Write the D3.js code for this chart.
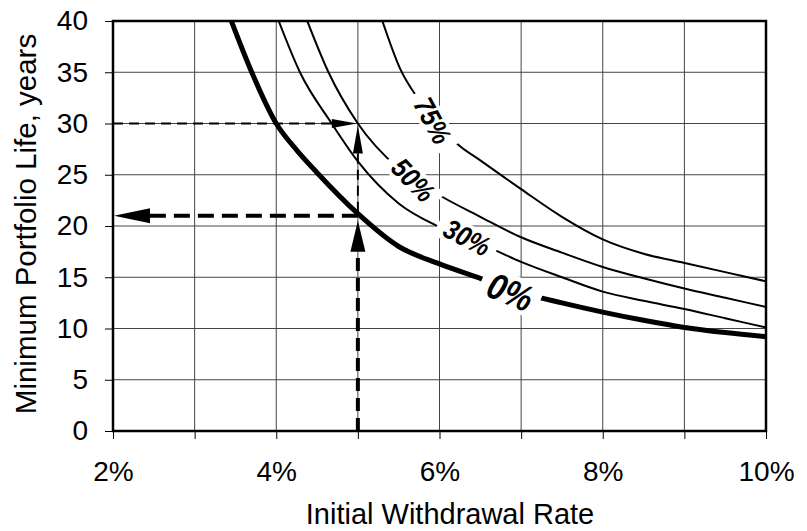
<!DOCTYPE html>
<html><head><meta charset="utf-8">
<script src="https://cdn.jsdelivr.net/npm/d3@7"></script>
<style>
body{margin:0;background:#fff}
svg{display:block}
text{font-family:Arial,"Liberation Sans",sans-serif;fill:#000}
</style>
</head><body>
<svg id="c" width="807" height="531"></svg>
<script>
// ---- data ----
const rates0  = [3.45,3.7,4.0,4.25,4.5,5.0,5.5,6.0,6.5,7.0,7.5,8.0,8.5,9.0,9.5,10.0];
const life0   = [40,35,30,27.4,25.2,21.2,18.0,16.3,14.9,13.5,12.5,11.6,10.8,10.1,9.6,9.2];
const rates30 = [4.03,4.29,4.68,5.0,5.5,6.0,6.5,7.0,7.5,8.0,8.5,9.0,9.5,10.0];
const life30  = [40,35,30,26.3,22.2,19.9,18.3,16.5,15.0,13.6,12.7,11.9,11.0,10.1];
const rates50 = [4.38,4.64,5.0,5.5,6.0,6.5,7.0,7.5,8.0,8.5,9.0,9.5,10.0];
const life50  = [40,35,30,25.6,23.0,20.9,18.9,17.4,16.0,14.9,13.9,13.0,12.1];
const rates75 = [5.3,5.52,5.74,6.0,6.22,6.5,7.0,7.5,8.0,8.5,9.0,9.5,10.0];
const life75  = [40,35.3,32.4,29.9,28.0,26.4,23.6,20.9,18.7,17.3,16.4,15.5,14.6];
const seriesNames = ["0%","30%","50%","75%"];
// label positions (rate, years) and angle
const labelRates = [6.87,6.34,5.68,5.92];
const labelYears = [13.6,18.9,24.5,30.3];
const labelAngles = [22,27,46,62];
const xTicks = [2,3,4,5,6,7,8,9,10];
const xTickLabels = ["2%","","4%","","6%","","8%","","10%"];
const yTicks = [0,5,10,15,20,25,30,35,40];
const exampleRate = 5, exampleLife0 = 21, exampleLife50 = 30;

// ---- layout ----
const W=807,H=531, m={l:113,t:21,r:41,b:100};
const svg=d3.select("#c");
const x=d3.scaleLinear().domain([2,10]).range([m.l,W-m.r]);
const y=d3.scaleLinear().domain([0,40]).range([H-m.b,m.t]);

// grid
const g=svg.append("g");
g.selectAll(".vg").data(xTicks).join("line")
 .attr("x1",d=>x(d)).attr("x2",d=>x(d)).attr("y1",y(0)).attr("y2",y(40))
 .attr("stroke","#444").attr("stroke-width",1);
g.selectAll(".hg").data(yTicks).join("line")
 .attr("y1",d=>y(d)).attr("y2",d=>y(d)).attr("x1",x(2)).attr("x2",x(10))
 .attr("stroke","#444").attr("stroke-width",1);

// clip
svg.append("clipPath").attr("id","pc").append("rect")
 .attr("x",x(2)).attr("y",y(40)).attr("width",x(10)-x(2)).attr("height",y(0)-y(40));

const series=[
 {name:"0%",r:rates0,v:life0,w:5},
 {name:"30%",r:rates30,v:life30,w:2},
 {name:"50%",r:rates50,v:life50,w:2},
 {name:"75%",r:rates75,v:life75,w:2}
];
const line=d3.line().x(d=>x(d[0])).y(d=>y(d[1])).curve(d3.curveMonotoneX);
svg.append("g").attr("clip-path","url(#pc)").selectAll("path").data(series).join("path")
 .attr("d",s=>line(s.r.map((r,i)=>[r,s.v[i]])))
 .attr("fill","none").attr("stroke","#000").attr("stroke-width",s=>s.w)
 .attr("stroke-linejoin","round");

// curve labels with white backgrounds
const sx=0.86;
seriesNames.forEach((n,i)=>{
  const big = n==="0%";
  const lg=svg.append("g").attr("transform",`translate(${x(labelRates[i])},${y(labelYears[i])}) rotate(${labelAngles[i]})`);
  const t=lg.append("text").text(n).attr("text-anchor","middle").attr("dy","0.36em")
    .attr("font-size",big?37:28).attr("font-weight","bold").attr("font-style","italic")
    .attr("transform",`scale(${sx},1)`);
  const bb=t.node().getBBox();
  lg.insert("rect","text").attr("x",bb.x*sx-8).attr("y",bb.y+3).attr("width",bb.width*sx+16).attr("height",bb.height-6).attr("fill","#fff");
});

// annotation dashed arrows
const ann=svg.append("g");
// thin: horizontal at 30 from 2% to 5%
ann.append("line").attr("x1",x(2)).attr("x2",x(exampleRate)-22).attr("y1",y(exampleLife50)).attr("y2",y(exampleLife50))
 .attr("stroke","#000").attr("stroke-width",2).attr("stroke-dasharray","10,6");
ann.append("path").attr("d",`M${x(exampleRate)-1},${y(exampleLife50)} L${x(exampleRate)-26},${y(exampleLife50)-4.5} L${x(exampleRate)-26},${y(exampleLife50)+4.5}Z`).attr("fill","#000");
// thin vertical from 21 to 30 at 5%
ann.append("line").attr("x1",x(exampleRate)).attr("x2",x(exampleRate)).attr("y1",y(exampleLife0)-4).attr("y2",y(exampleLife50)+20)
 .attr("stroke","#000").attr("stroke-width",2).attr("stroke-dasharray","10,6");
ann.append("path").attr("d",`M${x(exampleRate)},${y(exampleLife50)+2} L${x(exampleRate)-5},${y(exampleLife50)+30} L${x(exampleRate)+5},${y(exampleLife50)+30}Z`).attr("fill","#000");
// thick horizontal at 21 from 5% to 2%
ann.append("line").attr("x1",x(exampleRate)).attr("x2",x(2)+30).attr("y1",y(exampleLife0)).attr("y2",y(exampleLife0))
 .attr("stroke","#000").attr("stroke-width",4).attr("stroke-dasharray","16,8");
ann.append("path").attr("d",`M${x(2)+1},${y(exampleLife0)} L${x(2)+37},${y(exampleLife0)-7.5} L${x(2)+37},${y(exampleLife0)+7.5}Z`).attr("fill","#000");
// thick vertical from 0 to 21 at 5%
ann.append("line").attr("x1",x(exampleRate)).attr("x2",x(exampleRate)).attr("y1",y(0)).attr("y2",y(exampleLife0)+30)
 .attr("stroke","#000").attr("stroke-width",4).attr("stroke-dasharray","13,7");
ann.append("path").attr("d",`M${x(exampleRate)},${y(exampleLife0)+5} L${x(exampleRate)-7.5},${y(exampleLife0)+36} L${x(exampleRate)+7.5},${y(exampleLife0)+36}Z`).attr("fill","#000");

// border
svg.append("rect").attr("x",x(2)).attr("y",y(40)).attr("width",x(10)-x(2)).attr("height",y(0)-y(40))
 .attr("fill","none").attr("stroke","#000").attr("stroke-width",2.5);

// axes
const ya=svg.append("g").attr("transform",`translate(${x(2)},0)`)
 .call(d3.axisLeft(y).tickValues(yTicks).tickSize(8).tickPadding(17).tickFormat(d3.format("d")));
ya.select(".domain").remove();
ya.selectAll("text").attr("font-size",28).attr("font-family","Arial,'Liberation Sans',sans-serif");
ya.selectAll("line").attr("stroke","#000");
const xa=svg.append("g").attr("transform",`translate(0,${y(0)})`)
 .call(d3.axisBottom(x).tickValues(xTicks).tickSize(8).tickPadding(22).tickFormat((d,i)=>xTickLabels[i]));
xa.select(".domain").remove();
xa.selectAll("text").attr("font-size",28).attr("font-family","Arial,'Liberation Sans',sans-serif");
xa.selectAll("line").attr("stroke","#000");

// titles
svg.append("text").attr("x",450).attr("y",524).attr("text-anchor","middle").attr("font-size",29)
 .text("Initial Withdrawal Rate");
svg.append("text").attr("transform","translate(36,224) rotate(-90)").attr("text-anchor","middle").attr("font-size",29.5)
 .text("Minimum Portfolio Life, years");
</script>
</body></html>
